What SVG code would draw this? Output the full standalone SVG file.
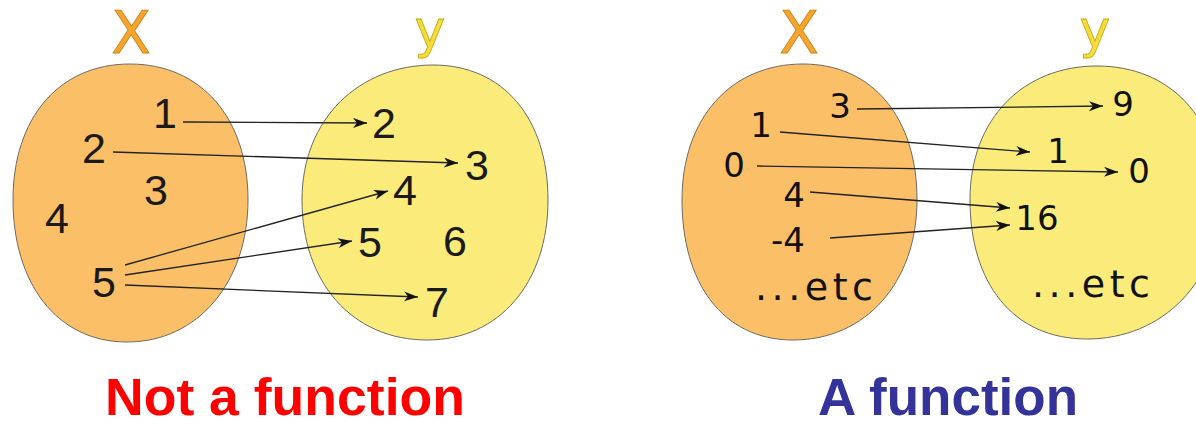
<svg xmlns="http://www.w3.org/2000/svg" width="1196" height="424" viewBox="0 0 1196 424">
<style>
.bg{fill:#ffffff}
.org{fill:#fbbf68;stroke:#6e6a60;stroke-width:1}
.yel{fill:#fbeb7b;stroke:#6e6a60;stroke-width:1}
.lx{font-family:"DejaVu Sans",sans-serif;font-size:58px;fill:#f5a52e;stroke:#c98418;stroke-width:0.8;text-anchor:middle}
.ly{font-family:"DejaVu Sans",sans-serif;font-size:52px;fill:#f4dc3a;stroke:#c2aa10;stroke-width:0.8;text-anchor:middle}
.n1{font-family:"Liberation Sans",Arial,sans-serif;font-size:43px;fill:#1a1a1a;text-anchor:middle}
.n2{font-family:"DejaVu Sans",sans-serif;font-size:34px;fill:#111;text-anchor:middle}
.etc{font-family:"DejaVu Sans",sans-serif;font-size:38px;fill:#111;text-anchor:middle}
.arr{fill:none;stroke:#222;stroke-width:1.3;marker-end:url(#ah)}
.t{font-family:"Liberation Sans",Arial,sans-serif;font-weight:bold;font-size:51px;text-anchor:middle}
</style>
<defs>
<marker id="ah" markerUnits="userSpaceOnUse" markerWidth="16" markerHeight="12" refX="14" refY="5" orient="auto">
<path d="M0,0 L14,5 L0,10 L4,5 Z" fill="#111"/>
</marker>
</defs>
<rect class="bg" x="0" y="0" width="1196" height="424"/>

<g id="left-X">
<path class="org" d="M130,64 C201,64 248,118 248,200 C248,282 198,342 127,342 C56,342 13,282 13,200 C13,118 59,64 130,64 Z"/>
<text class="lx" x="131" y="53">X</text>
<text class="n1" x="165" y="128">1</text>
<text class="n1" x="94" y="163">2</text>
<text class="n1" x="156" y="205">3</text>
<text class="n1" x="57" y="233">4</text>
<text class="n1" x="104" y="297">5</text>
</g>

<g id="left-Y">
<path class="yel" d="M433,65 C503,65 548,118 548,200 C548,282 500,340 427,340 C352,340 302,282 302,200 C302,118 360,65 433,65 Z"/>
<text class="ly" x="430" y="47">y</text>
<text class="n1" x="384" y="138">2</text>
<text class="n1" x="477" y="180">3</text>
<text class="n1" x="405" y="205">4</text>
<text class="n1" x="370" y="257">5</text>
<text class="n1" x="455" y="256">6</text>
<text class="n1" x="437" y="317">7</text>
</g>

<g id="right-X">
<path class="org" d="M803,64 C873,64 917,118 917,200 C917,282 866,340 793,340 C722,340 682,282 682,200 C682,118 731,64 803,64 Z"/>
<text class="lx" x="799" y="53">X</text>
<text class="n2" x="840" y="118">3</text>
<text class="n2" x="761" y="137">1</text>
<text class="n2" x="734" y="177">0</text>
<text class="n2" x="794" y="207">4</text>
<text class="n2" x="788" y="252">-4</text>
<text class="etc" x="814" y="300" textLength="118" lengthAdjust="spacing">...etc</text>
</g>

<g id="right-Y">
<path class="yel" d="M1097,66 C1170,66 1220,118 1220,200 C1220,282 1162,339 1087,339 C1012,339 970,282 970,200 C970,118 1024,66 1097,66 Z"/>
<text class="ly" x="1095" y="47">y</text>
<text class="n2" x="1123" y="116">9</text>
<text class="n2" x="1058" y="163">1</text>
<text class="n2" x="1139" y="183">0</text>
<text class="n2" x="1037" y="230">16</text>
<text class="etc" x="1091" y="297" textLength="118" lengthAdjust="spacing">...etc</text>
</g>

<g id="connectors">
<path class="arr" d="M183,122 L367,123"/>
<path class="arr" d="M113,152 L458,163"/>
<path class="arr" d="M125,265 L388,191"/>
<path class="arr" d="M125,275 L352,241"/>
<path class="arr" d="M125,285 L418,297"/>
<path class="arr" d="M857,109 L1103,106"/>
<path class="arr" d="M780,132 L1030,152"/>
<path class="arr" d="M757,166 L1118,172"/>
<path class="arr" d="M810,192 L1010,208"/>
<path class="arr" d="M830,238 L1010,225"/>
</g>

<g id="titles">
<text class="t" x="285" y="415" fill="#ff0000" textLength="360" lengthAdjust="spacingAndGlyphs">Not a function</text>
<text class="t" x="948" y="415" fill="#333399" textLength="260" lengthAdjust="spacingAndGlyphs">A function</text>
</g>
</svg>
